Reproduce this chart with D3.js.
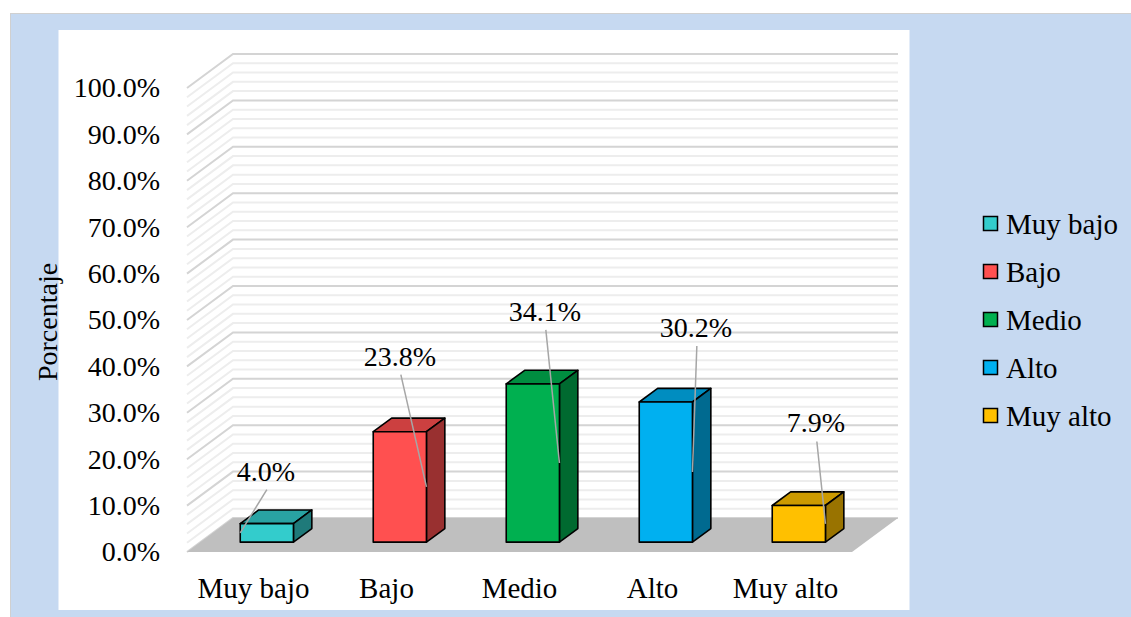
<!DOCTYPE html>
<html>
<head>
<meta charset="utf-8">
<script src="https://cdn.jsdelivr.net/npm/d3@7"></script>
<style>
  body { margin: 0; background: #fff; }
  text { font-family: "Liberation Serif", "Times New Roman", serif; fill: #000; }
</style>
</head>
<body>
<div id="chart"></div>
<script>
// Categories and values
var categories = ["Muy bajo", "Bajo", "Medio", "Alto", "Muy alto"];
var values = [0.040, 0.238, 0.341, 0.302, 0.079];
var valueLabels = ["4.0%", "23.8%", "34.1%", "30.2%", "7.9%"];
var yTicks = [0, 0.1, 0.2, 0.3, 0.4, 0.5, 0.6, 0.7, 0.8, 0.9, 1.0];

// colours: front, top, side
var frontColors = ["#33CCCC", "#FF5050", "#00B050", "#00B0F0", "#FFC000"];
var topColors = ["#29A3A3", "#CC4040", "#008D40", "#008DC0", "#CC9A00"];
var sideColors = ["#1F7A7A", "#993030", "#006A30", "#006A90", "#997300"];

// label offsets from bar front centre / bar top (layout only)
var labelDx = [-1, 0, 12, 30, 17];
var labelDy = [-53, -76, -73, -75, -83];

var width = 1131, height = 617;
var DX = 46, DY = 34;          // depth offset of the 3d box
var z0 = 0.29, z1 = 0.69;      // bar depth range

var svg = d3.select("#chart").append("svg")
  .attr("width", width)
  .attr("height", height);

// background panel
svg.append("rect")
  .attr("x", 10.5).attr("y", 13.5)
  .attr("width", 1130).attr("height", 620)
  .attr("fill", "#C6D9F1")
  .attr("stroke", "#D0D0D0");

svg.append("rect")
  .attr("x", 58.5).attr("y", 30)
  .attr("width", 851).attr("height", 580)
  .attr("fill", "#fff");

// scales (front plane)
var x = d3.scaleBand()
  .domain(categories)
  .range([187, 852])
  .paddingInner(0.6)
  .paddingOuter(0.3);

var xFull = d3.scaleBand()
  .domain(categories)
  .range([187, 852]);

var y = d3.scaleLinear()
  .domain([0, 1])
  .range([552, 88]);

function pt(px, v, z) {
  return [px + z * DX, y(v) - z * DY];
}

// gridlines: minor every 2%, major every 10%
var gridVals = d3.range(0, 51).map(d => d / 50);
var grid = svg.append("g");
gridVals.forEach(function(v, i) {
  var major = i % 5 === 0;
  var a = pt(187, v, 0), b = pt(187, v, 1), c = pt(852, v, 1);
  grid.append("polyline")
    .attr("points", [a, b, c].map(p => p.join(",")).join(" "))
    .attr("fill", "none")
    .attr("stroke", major ? "#D4D4D4" : "#EDEDED")
    .attr("stroke-width", 2);
});

// floor
var floor = [pt(187, 0, 0), pt(852, 0, 0), pt(852, 0, 1), pt(187, 0, 1)];
svg.append("polygon")
  .attr("points", floor.map(p => p.join(",")).join(" "))
  .attr("fill", "#BFBFBF");

// y axis labels
var yAxis = d3.axisLeft(y)
  .tickValues(yTicks)
  .tickFormat(d => d3.format(".1f")(d * 100) + "%")
  .tickSize(0)
  .tickPadding(0);

var yg = svg.append("g")
  .attr("transform", "translate(160,0)")
  .call(yAxis);
yg.select(".domain").remove();
yg.selectAll("text")
  .attr("font-family", "Liberation Serif")
  .attr("font-size", 28)
  .attr("fill", "#000");

// x axis labels
var xAxis = d3.axisBottom(xFull).tickSize(0).tickPadding(0);
var xg = svg.append("g")
  .attr("transform", "translate(0,577)")
  .call(xAxis);
xg.select(".domain").remove();
xg.selectAll("text")
  .attr("font-family", "Liberation Serif")
  .attr("font-size", 29)
  .attr("fill", "#000");

// axis title
svg.append("text")
  .attr("transform", "translate(57,322) rotate(-90)")
  .attr("text-anchor", "middle")
  .attr("font-size", 28)
  .text("Porcentaje");

// bars
var bars = svg.append("g");
categories.forEach(function(c, i) {
  var x0 = x(c), x1 = x(c) + x.bandwidth(), v = values[i];
  var g = bars.append("g")
    .attr("stroke", "#000")
    .attr("stroke-width", 1.6)
    .attr("stroke-linejoin", "round");
  var top = [pt(x0, v, z0), pt(x1, v, z0), pt(x1, v, z1), pt(x0, v, z1)];
  var side = [pt(x1, 0, z0), pt(x1, 0, z1), pt(x1, v, z1), pt(x1, v, z0)];
  var front = [pt(x0, 0, z0), pt(x1, 0, z0), pt(x1, v, z0), pt(x0, v, z0)];
  g.append("polygon").attr("points", top.map(p => p.join(",")).join(" ")).attr("fill", topColors[i]);
  g.append("polygon").attr("points", side.map(p => p.join(",")).join(" ")).attr("fill", sideColors[i]);
  g.append("polygon").attr("points", front.map(p => p.join(",")).join(" ")).attr("fill", frontColors[i]);
});

// data labels with leader lines
var labels = svg.append("g");
categories.forEach(function(c, i) {
  var v = values[i];
  var fc = pt(x(c) + x.bandwidth() / 2, v, z0);
  var lx = fc[0] + labelDx[i];
  var ly = fc[1] + labelDy[i];
  // leader end: middle of front face edge
  var edgeX = i === 0 ? x(c) : x(c) + x.bandwidth();
  var end = pt(edgeX, v / 2, z0);
  labels.append("line")
    .attr("x1", lx + 1).attr("y1", ly + 19)
    .attr("x2", end[0]).attr("y2", end[1])
    .attr("stroke", "#A6A6A6")
    .attr("stroke-width", 1.5);
  labels.append("text")
    .attr("x", lx).attr("y", ly + 10)
    .attr("text-anchor", "middle")
    .attr("font-size", 28)
    .text(valueLabels[i]);
});

// legend
var legend = svg.append("g").attr("transform", "translate(983,224)");
categories.forEach(function(c, i) {
  var row = legend.append("g").attr("transform", "translate(0," + (i * 48) + ")");
  row.append("rect")
    .attr("x", 0.5).attr("y", -7.5)
    .attr("width", 14).attr("height", 14)
    .attr("fill", frontColors[i])
    .attr("stroke", "#000")
    .attr("stroke-width", 1.5);
  row.append("text")
    .attr("x", 23).attr("y", 10)
    .attr("font-size", 29)
    .text(c);
});
</script>
</body>
</html>
